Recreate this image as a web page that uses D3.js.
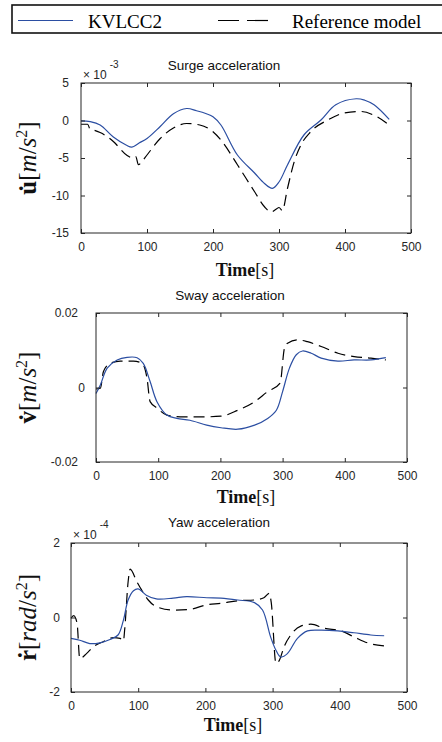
<!DOCTYPE html>
<html>
<head>
<meta charset="utf-8">
<script src="https://cdn.jsdelivr.net/npm/d3@7"></script>
<style>
  body { margin: 0; background: #fff; }
  .tick text { font-family: "Liberation Sans", Arial, sans-serif; font-size: 12px; fill: #262626; }
  .tick line { stroke: #262626; }
</style>
</head>
<body>
<div id="chart"></div>
<script>
// values (surge in 1e-3, yaw in 1e-4 units)
const timeTicks = [0, 100, 200, 300, 400, 500];

const surgeKvT = [0, 14, 29, 49, 69, 77, 88, 100, 120, 140, 160, 175, 190, 200, 212, 237, 263, 278, 290, 300, 313, 338, 364, 386, 417, 430, 444, 467];
const surgeKv  = [-0.05, -0.15, -0.6, -2.2, -3.3, -3.55, -3.0, -2.4, -0.8, 0.9, 1.6, 1.3, 0.9, 0.5, -0.6, -4.6, -7.0, -8.4, -9.05, -8.2, -5.9, -1.9, 0.1, 2.1, 2.9, 2.7, 2.1, 0.15];
const surgeRefT = [0, 10, 14, 20, 29, 49, 69, 79, 83, 87, 92, 100, 120, 140, 160, 180, 200, 212, 237, 263, 278, 288, 296, 300, 305, 313, 323, 333, 348, 374, 399, 424, 444, 467];
const surgeRef  = [-0.5, -0.5, -1.2, -1.3, -1.6, -2.8, -4.6, -5.0, -4.8, -5.9, -5.5, -4.6, -2.4, -1.0, -0.4, -0.6, -1.5, -2.6, -5.9, -9.5, -11.5, -12.2, -11.8, -11.6, -12.0, -9.0, -5.5, -3.3, -1.5, 0.07, 1.0, 1.2, 0.7, -0.6];

const swayKvT = [0, 7, 18, 34, 50, 66, 76, 87, 98, 114, 130, 151, 178, 201, 228, 255, 276, 290, 300, 311, 322, 332, 346, 362, 389, 415, 442, 466];
const swayKv  = [-0.0016, 0.0007, 0.0052, 0.0074, 0.0081, 0.008, 0.0065, 0.0016, -0.0038, -0.0074, -0.0083, -0.0088, -0.0101, -0.0108, -0.0112, -0.0101, -0.0083, -0.0061, -0.0011, 0.0052, 0.0088, 0.0098, 0.0092, 0.0079, 0.0071, 0.0074, 0.0074, 0.008];
const swayRefT = [0, 7, 12, 23, 39, 60, 74, 82, 87, 98, 114, 141, 167, 201, 228, 255, 276, 296, 303, 308, 324, 340, 362, 389, 415, 442, 466];
const swayRef  = [-0.0004, -0.0002, 0.0043, 0.0065, 0.0071, 0.0071, 0.0065, 0.0025, -0.0038, -0.0055, -0.0074, -0.0079, -0.0079, -0.0077, -0.0061, -0.0038, -0.0011, 0.0012, 0.0106, 0.0119, 0.0128, 0.0123, 0.011, 0.0092, 0.0083, 0.0079, 0.0074];

const yawKvT = [0, 13, 28, 43, 58, 70, 78, 85, 93, 100, 112, 127, 152, 172, 202, 223, 248, 273, 285, 297, 305, 312, 322, 337, 352, 372, 397, 421, 446, 466];
const yawKv  = [-0.56, -0.61, -0.7, -0.68, -0.59, -0.47, -0.07, 0.47, 0.72, 0.77, 0.6, 0.5, 0.52, 0.56, 0.53, 0.52, 0.47, 0.4, 0.2, -0.52, -0.88, -1.06, -0.97, -0.56, -0.36, -0.34, -0.36, -0.41, -0.47, -0.49];
const yawRefT = [0, 4, 9, 13, 23, 33, 48, 63, 73, 78, 80, 85, 88, 98, 105, 115, 127, 152, 177, 202, 223, 248, 273, 287, 295, 298, 305, 310, 317, 327, 342, 357, 377, 402, 421, 441, 466];
const yawRef  = [-0.02, 0.05, -0.15, -1.1, -0.97, -0.79, -0.65, -0.54, -0.56, -0.63, -0.3, 0.96, 1.3, 0.96, 0.74, 0.47, 0.29, 0.2, 0.22, 0.34, 0.38, 0.45, 0.47, 0.53, 0.65, 0.4, -1.23, -1.15, -0.79, -0.47, -0.23, -0.18, -0.29, -0.36, -0.52, -0.68, -0.76];

const blue = "#2b4ea2";
const axisColor = "#262626";

const svg = d3.select("#chart").append("svg")
    .attr("width", 442)
    .attr("height", 742);

// legend (cut off on the right like the original)
const legend = svg.append("g");
legend.append("rect")
    .attr("x", 12).attr("y", 5).attr("width", 440).attr("height", 28)
    .attr("fill", "#fff").attr("stroke", "#111").attr("stroke-width", 1.6);
legend.append("line")
    .attr("x1", 18).attr("x2", 73).attr("y1", 20.5).attr("y2", 20.5)
    .attr("stroke", blue).attr("stroke-width", 1.2);
legend.append("line")
    .attr("x1", 218).attr("x2", 268).attr("y1", 20.5).attr("y2", 20.5)
    .attr("stroke", "#000").attr("stroke-width", 1.2).attr("stroke-dasharray", "21,8");
legend.selectAll("text.leg")
    .data([["KVLCC2", 88], ["Reference model", 292]])
    .enter().append("text")
    .attr("class", "leg")
    .attr("x", d => d[1]).attr("y", 27.5)
    .style("font-family", "'Liberation Serif', 'Times New Roman', serif")
    .style("font-size", "19px")
    .text(d => d[0]);

const panels = [
    { title: "Surge acceleration", titleX: 224, titleY: 70,
      left: 81, right: 411, top: 83, bottom: 233, yDomain: [-15, 5], yTicks: [-15, -10, -5, 0, 5],
      ySym: "u", yUnit: "m", ypad: 12, exponent: "-3",
      kvT: surgeKvT, kv: surgeKv, refT: surgeRefT, ref: surgeRef, xlabX: 245, xlabY: 276 },
    { title: "Sway acceleration", titleX: 230, titleY: 300,
      left: 96, right: 407, top: 313, bottom: 462, yDomain: [-0.02, 0.02], yTicks: [-0.02, 0, 0.02],
      ySym: "v", yUnit: "m", ypad: 18, exponent: null,
      kvT: swayKvT, kv: swayKv, refT: swayRefT, ref: swayRef, xlabX: 246, xlabY: 503 },
    { title: "Yaw acceleration", titleX: 219, titleY: 527,
      left: 71, right: 407, top: 543, bottom: 692, yDomain: [-2, 2], yTicks: [-2, 0, 2],
      ySym: "r", yUnit: "rad", ypad: 11, exponent: "-4",
      kvT: yawKvT, kv: yawKv, refT: yawRefT, ref: yawRef, xlabX: 233, xlabY: 731 }
];

panels.forEach(drawPanel);

function drawPanel(p) {
    const g = svg.append("g");
    const x = d3.scaleLinear().domain([0, 500]).range([p.left, p.right]);
    const y = d3.scaleLinear().domain(p.yDomain).range([p.bottom, p.top]);

    const line = (ts, vs, curve) => d3.line()
        .x((d, i) => x(ts[i]))
        .y(d => y(d))
        .curve(curve)(vs);

    g.append("path")
        .attr("d", line(p.refT, p.ref, d3.curveMonotoneX))
        .attr("fill", "none").attr("stroke", "#000")
        .attr("stroke-width", 1.2).attr("stroke-dasharray", "11,6");

    g.append("path")
        .attr("d", line(p.kvT, p.kv, d3.curveCatmullRom.alpha(0.5)))
        .attr("fill", "none").attr("stroke", blue)
        .attr("stroke-width", 1.2);

    // axes with inward ticks, mirrored on top/right
    g.append("g").attr("transform", `translate(0,${p.bottom})`)
        .call(d3.axisBottom(x).tickValues(timeTicks).tickSizeInner(-4).tickSizeOuter(0).tickPadding(9.5))
        .call(a => a.select(".domain").remove());
    g.append("g").attr("transform", `translate(0,${p.top})`)
        .call(d3.axisTop(x).tickValues(timeTicks).tickSizeInner(-4).tickSizeOuter(0).tickFormat(""))
        .call(a => a.select(".domain").remove());
    g.append("g").attr("transform", `translate(${p.left},0)`)
        .call(d3.axisLeft(y).tickValues(p.yTicks).tickSizeInner(-4).tickSizeOuter(0).tickPadding(p.ypad)
            .tickFormat(d => d3.format("")(d).replace("−", "-")))
        .call(a => a.select(".domain").remove())
        .call(a => a.selectAll(".tick text").filter(d => d === 0 && p.ySym === "v").attr("x", -11));
    g.append("g").attr("transform", `translate(${p.right},0)`)
        .call(d3.axisRight(y).tickValues(p.yTicks).tickSizeInner(-4).tickSizeOuter(0).tickFormat(""))
        .call(a => a.select(".domain").remove());

    g.append("rect")
        .attr("x", p.left).attr("y", p.top)
        .attr("width", p.right - p.left).attr("height", p.bottom - p.top)
        .attr("fill", "none").attr("stroke", axisColor).attr("stroke-width", 1);

    g.append("text")
        .attr("x", p.titleX).attr("y", p.titleY)
        .attr("text-anchor", "middle")
        .style("font-family", "'Liberation Sans', Arial, sans-serif")
        .style("font-size", "13.5px")
        .style("fill", "#111")
        .text(p.title);

    if (p.exponent) {
        const ex = g.append("text")
            .attr("x", p.left + 2).attr("y", p.top - 4)
            .style("font-family", "'Liberation Sans', Arial, sans-serif")
            .style("font-size", "12px")
            .style("fill", axisColor);
        ex.append("tspan").text("\u00d7 10");
        ex.append("tspan").attr("dx", 3).attr("dy", -11).style("font-size", "10px").text(p.exponent);
    }

    // y label, LaTeX-like
    const cy = (p.top + p.bottom) / 2;
    const yl = g.append("text")
        .attr("transform", `translate(36,${cy}) rotate(-90)`)
        .attr("text-anchor", "middle")
        .style("font-family", "'Liberation Serif', 'Times New Roman', serif")
        .style("font-size", "25px")
        .style("fill", "#111");
    yl.append("tspan").style("font-weight", "bold").text(p.ySym + "\u0307");
    yl.append("tspan").text("[");
    yl.append("tspan").style("font-style", "italic").text(p.yUnit);
    yl.append("tspan").text("/");
    yl.append("tspan").style("font-style", "italic").text("s");
    yl.append("tspan").attr("dy", -9).style("font-size", "16px").text("2");
    yl.append("tspan").attr("dy", 9).text("]");

    const xl = g.append("text")
        .attr("x", p.xlabX).attr("y", p.xlabY)
        .attr("text-anchor", "middle")
        .style("font-family", "'Liberation Serif', 'Times New Roman', serif")
        .style("font-size", "18px")
        .style("fill", "#111");
    xl.append("tspan").style("font-weight", "bold").text("Time");
    xl.append("tspan").text("[s]");
}
</script>
</body>
</html>
